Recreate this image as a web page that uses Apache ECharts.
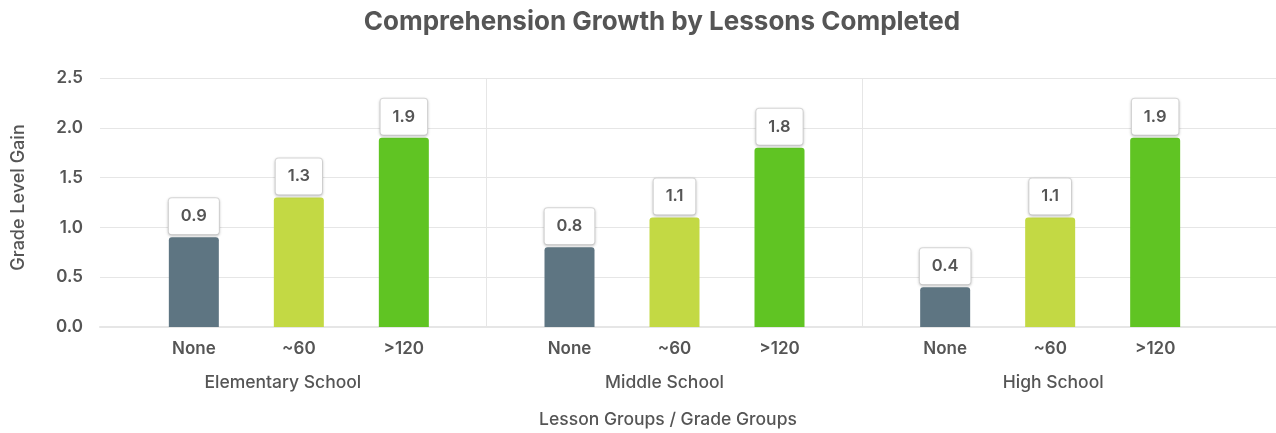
<!DOCTYPE html>
<html>
<head>
<meta charset="utf-8">
<script src="https://cdn.jsdelivr.net/npm/echarts@6/dist/echarts.min.js"></script>
<style>
  html, body { margin: 0; padding: 0; background: #fff; }
  #chart { width: 1276px; height: 433px; }
</style>
</head>
<body>
<div id="chart"></div>
<script>
// Grade groups along the x axis and the lesson buckets inside each group
const schools = ['Elementary School', 'Middle School', 'High School'];
const lessonGroups = ['None', '~60', '>120'];

// Grade level gain per lesson bucket, one value per school
const noneGain = [0.9, 0.8, 0.4];
const sixtyGain = [1.3, 1.1, 1.1];
const over120Gain = [1.9, 1.8, 1.9];

// Value axis range
const yMin = 0;
const yMax = 2.5;
const yStep = 0.5;

const FONT = 'Inter, "Open Sans", sans-serif';
const TEXT = '#555';
const GRID_LINE = '#e6e6e6';
const colors = ['#5e7582', '#c3d944', '#60c423'];

const chart = echarts.init(document.getElementById('chart'), null, { renderer: 'canvas' });

const valueLabel = {
  show: true,
  position: 'top',
  distance: 3,
  formatter: p => Number(p.value).toFixed(1),
  color: TEXT,
  fontFamily: FONT,
  fontSize: 16.5,
  fontWeight: 600,
  lineHeight: 20,
  backgroundColor: '#fff',
  borderColor: '#dcdcdc',
  borderWidth: 1,
  borderRadius: 3,
  padding: [8, 12, 8, 12],
  shadowColor: 'rgba(0,0,0,0.18)',
  shadowBlur: 3,
  shadowOffsetY: 1
};

// Each category label lists the lesson buckets under the bars, then the school name.
// The school names sit slightly off the band centres, so each gets its own padding.
const grpBase = { fontSize: 17.5, fontWeight: 500, color: TEXT, fontFamily: FONT, lineHeight: 34 };
const richLabel = {
  sub: { width: 105, align: 'center', fontSize: 17, fontWeight: 600, color: TEXT, fontFamily: FONT, lineHeight: 34 },
  grp0: Object.assign({ padding: [0, 32, 0, 0] }, grpBase),
  grp1: Object.assign({ padding: [0, 20, 0, 0] }, grpBase),
  grp2: Object.assign({ padding: [0, 0, 0, 6] }, grpBase)
};

const seriesValues = [noneGain, sixtyGain, over120Gain];

const option = {
  animation: false,
  textStyle: { fontFamily: FONT },
  title: [
    {
      text: 'Comprehension Growth by Lessons Completed',
      left: 657,
      top: 4,
      textAlign: 'center',
      textStyle: { fontFamily: FONT, fontSize: 26, fontWeight: 700, color: TEXT }
    },
    {
      text: 'Lesson Groups / Grade Groups',
      left: 663,
      top: 406,
      textAlign: 'center',
      textStyle: { fontFamily: FONT, fontSize: 17.5, fontWeight: 500, color: TEXT }
    }
  ],
  grid: [
    // bars and group separators
    { left: 111, right: 38, top: 78, bottom: 106, containLabel: false },
    // horizontal gridlines and y labels across the full width
    { left: 100, right: 0, top: 78, bottom: 106, containLabel: false }
  ],
  xAxis: [
    {
      type: 'category',
      gridIndex: 0,
      data: schools,
      axisLine: { show: false },
      axisTick: { show: false },
      splitLine: {
        show: true,
        interval: 0,
        lineStyle: { color: ['rgba(0,0,0,0)', GRID_LINE, GRID_LINE, 'rgba(0,0,0,0)'], width: 1 }
      },
      axisLabel: {
        interval: 0,
        margin: 5,
        formatter: (name, idx) =>
          lessonGroups.map(g => '{sub|' + g + '}').join('') + '\n{grp' + idx + '|' + name + '}',
        rich: richLabel
      }
    },
    {
      type: 'value',
      gridIndex: 1,
      min: 0,
      max: 1,
      axisLabel: { show: false },
      axisTick: { show: false },
      splitLine: { show: false },
      axisLine: { show: true, lineStyle: { color: GRID_LINE, width: 2 } }
    }
  ],
  yAxis: [
    {
      type: 'value',
      gridIndex: 0,
      min: yMin,
      max: yMax,
      interval: yStep,
      show: false
    },
    {
      type: 'value',
      gridIndex: 1,
      min: yMin,
      max: yMax,
      interval: yStep,
      name: 'Grade Level Gain',
      nameLocation: 'middle',
      nameGap: 72,
      nameTextStyle: { fontFamily: FONT, fontSize: 18, fontWeight: 500, color: TEXT, padding: [0, 0, 0, 10] },
      axisLine: { show: false },
      axisTick: { show: false },
      axisLabel: {
        margin: 17,
        formatter: v => v.toFixed(1),
        color: TEXT,
        fontFamily: FONT,
        fontSize: 17,
        fontWeight: 600
      },
      splitLine: { show: true, lineStyle: { color: GRID_LINE, width: 1 } }
    }
  ],
  series: lessonGroups.map((g, i) => ({
    name: g,
    type: 'bar',
    xAxisIndex: 0,
    yAxisIndex: 0,
    data: seriesValues[i],
    barWidth: 50,
    barGap: '110%',
    itemStyle: { color: colors[i], borderRadius: [3, 3, 0, 0] },
    label: valueLabel
  }))
};

chart.setOption(option);
</script>
</body>
</html>
